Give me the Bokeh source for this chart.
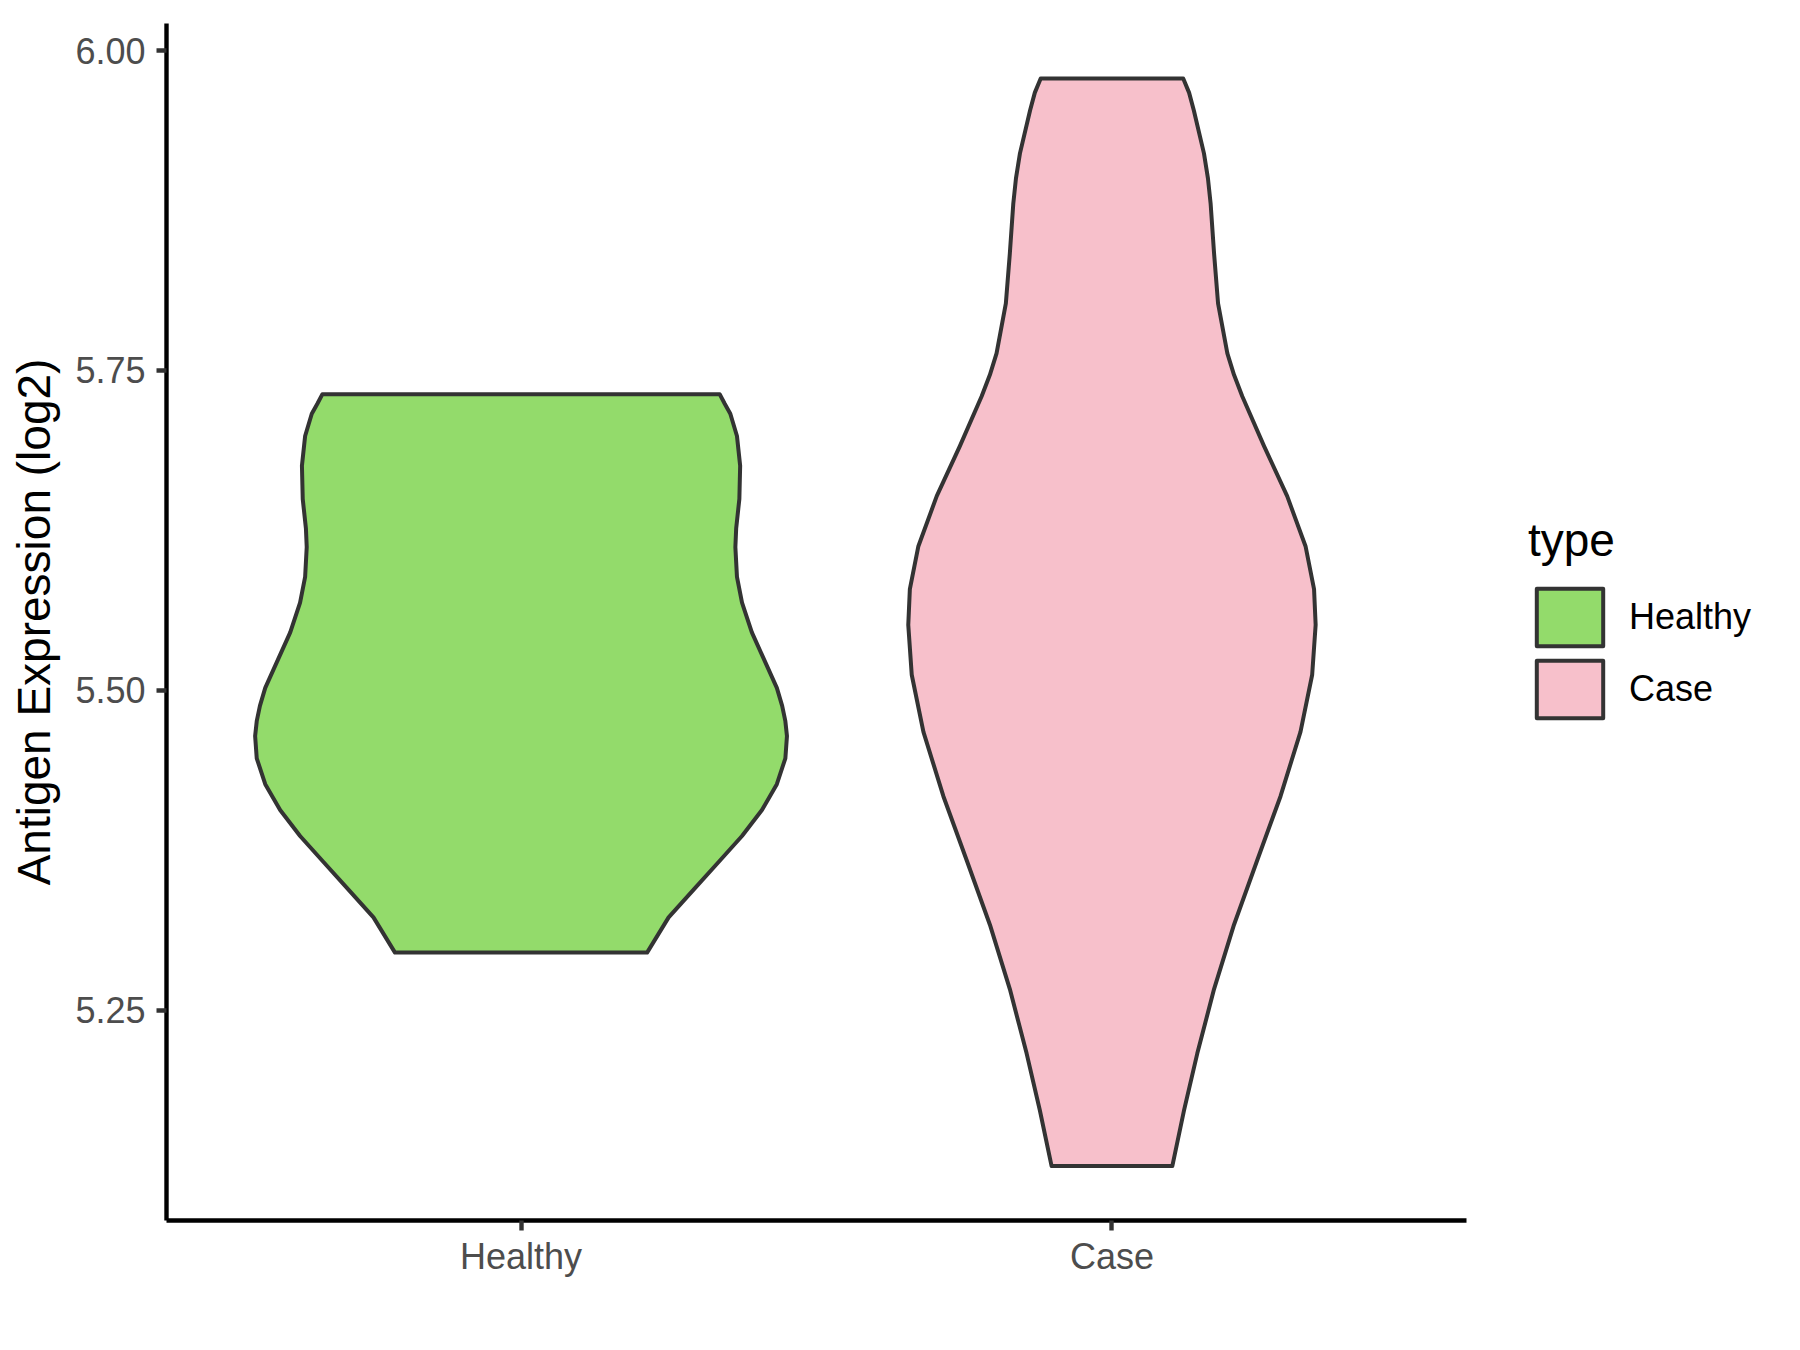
from bokeh.plotting import figure
from bokeh.models import Range1d, FixedTicker, PrintfTickFormatter, Legend, LegendItem
from bokeh.embed import file_html
from bokeh.resources import INLINE

# ---------------- data ----------------
categories = ["Healthy", "Case"]

# y levels (log2 expression) and relative density (1.0 = widest violin)
healthy_levels = [5.7315, 5.7240, 5.7162, 5.6988, 5.6756, 5.6496, 5.6265, 5.6120,
                  5.5888, 5.5686, 5.5454, 5.5223, 5.5020, 5.4880, 5.4760, 5.4644,
                  5.4470, 5.4268, 5.4066, 5.3863, 5.3660, 5.3458, 5.3227, 5.2952]
healthy_density = [0.747, 0.766, 0.787, 0.812, 0.824, 0.821, 0.809, 0.806,
                   0.812, 0.831, 0.868, 0.918, 0.962, 0.982, 0.994, 1.000,
                   0.994, 0.962, 0.906, 0.831, 0.743, 0.655, 0.555, 0.474]

case_levels = [5.9782, 5.9671, 5.9531, 5.9196, 5.9001, 5.8805, 5.8415, 5.8024,
               5.7634, 5.7466, 5.7299, 5.6909, 5.6518, 5.6127, 5.5792, 5.5513,
               5.5123, 5.4677, 5.4174, 5.3672, 5.3170, 5.2667, 5.2165, 5.1719,
               5.1284]
case_density = [0.268, 0.290, 0.308, 0.346, 0.361, 0.371, 0.384, 0.399,
                0.434, 0.459, 0.490, 0.572, 0.659, 0.728, 0.760, 0.766,
                0.753, 0.709, 0.634, 0.546, 0.459, 0.384, 0.321, 0.271,
                0.227]

y_ticks = [5.25, 5.50, 5.75, 6.00]

# ---------------- styles ----------------
FILLS = {"Healthy": "#93DB6B", "Case": "#F7C0CB"}
OUTLINE = "#333333"
FONT = "Liberation Sans"
HALF_WIDTH = 0.45  # violin width 0.9 in category units

p = figure(width=1784, height=1334, frame_width=1300, frame_height=1197,
           output_backend="svg", toolbar_location=None,
           x_range=Range1d(0.4, 2.6), y_range=Range1d(5.0859, 6.0211),
           min_border_left=166, min_border_right=2, min_border_top=23,
           min_border_bottom=114, background_fill_color="white",
           border_fill_color="white")

renderers = {}
series = {"Healthy": (healthy_levels, healthy_density),
          "Case": (case_levels, case_density)}
for i, cat in enumerate(categories):
    levels, dens = series[cat]
    center = i + 1
    xs = [center - d * HALF_WIDTH for d in dens] + \
         [center + d * HALF_WIDTH for d in reversed(dens)]
    ys = list(levels) + list(reversed(levels))
    renderers[cat] = p.patch(xs, ys, fill_color=FILLS[cat], line_color=OUTLINE,
                             line_width=4, line_join="round")

# ---------------- axes ----------------
p.xgrid.visible = False
p.ygrid.visible = False
p.outline_line_color = None

p.xaxis.ticker = FixedTicker(ticks=[i + 1 for i in range(len(categories))])
p.xaxis.major_label_overrides = {i + 1: c for i, c in enumerate(categories)}
p.yaxis.ticker = FixedTicker(ticks=y_ticks)
p.yaxis.formatter = PrintfTickFormatter(format="%.2f")

for ax in (p.xaxis, p.yaxis):
    ax.axis_line_color = "black"
    ax.axis_line_width = 4.4
    ax.major_tick_line_color = OUTLINE
    ax.major_tick_line_width = 4.4
    ax.major_tick_out = 10
    ax.major_tick_in = 0
    ax.minor_tick_line_color = None
    ax.major_label_text_font = FONT
    ax.major_label_text_font_size = "36px"
    ax.major_label_text_color = "#4D4D4D"

p.xaxis.major_label_standoff = 5
p.yaxis.major_label_standoff = 11
p.yaxis.axis_label = "Antigen Expression (log2)"
p.yaxis.axis_label_text_font = FONT
p.yaxis.axis_label_text_font_size = "46px"
p.yaxis.axis_label_text_font_style = "normal"
p.yaxis.axis_label_text_color = "black"
p.yaxis.axis_label_standoff = 12

# ---------------- legend ----------------
legend = Legend(
    items=[LegendItem(label=c, renderers=[renderers[c]]) for c in categories],
    title="type", location=(62, 495),
    glyph_width=83, glyph_height=72, spacing=0, padding=0, margin=0,
    label_standoff=18, title_standoff=14,
    label_text_font=FONT, label_text_font_size="36px", label_text_color="black",
    title_text_font=FONT, title_text_font_size="46px",
    title_text_font_style="normal", title_text_color="black",
    border_line_color=None, background_fill_alpha=0,
)
p.add_layout(legend, "right")

open("out.html", "w").write(file_html(p, INLINE))
